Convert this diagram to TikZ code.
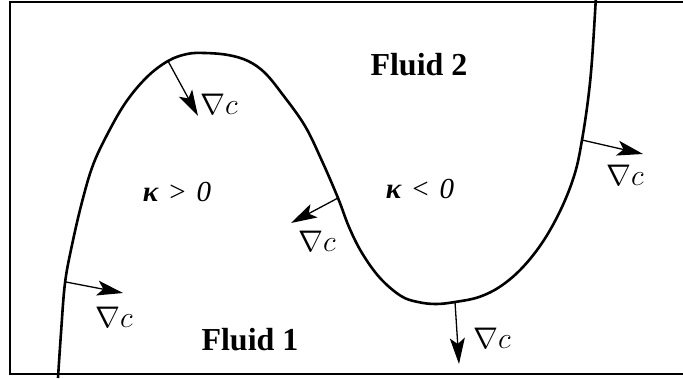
\documentclass[tikz,border=0pt]{standalone}
\usepackage{fontspec}
\setmainfont{Liberation Serif}
\usetikzlibrary{arrows.meta}
\tikzset{
  >={Stealth[length=26pt,width=15pt,inset=6pt]},
  frame/.style={line width=2.8pt},
  iface/.style={line width=2.6pt,line join=round},
  grad/.style={->,line width=1.3pt},
  gradlbl/.style={inner sep=0pt,font=\fontsize{24.88}{28}\selectfont,scale=1.2,transform shape},
  fluidlbl/.style={inner sep=0pt,font=\fontsize{32}{34}\selectfont\bfseries},
  curvlbl/.style={inner sep=0pt,font=\fontsize{29}{32}\selectfont},
}
\newcommand{\gradc}{$\nabla c$}

\begin{document}
\begin{tikzpicture}[x=1pt,y=-1pt]
\useasboundingbox (0,0) rectangle (683,378);

% frame, open on the right
\draw[frame] (690,2) -- (10,2) -- (10,374) -- (690,374);

% interface between the fluids
\draw[iface] plot[smooth,tension=0.6] coordinates {
  (58,378) (61,333) (65,283) (72,245) (82,202) (93,165) (108,133)
  (126,102) (147,77) (168,61) (187,54) (205,53) (228,55) (248,61)
  (265,73) (283,95) (305,126) (322,161) (338,198) (349,227) (362,253)
  (380,278) (401,296) (418,302) (436,304) (455,302) (479,297) (501,286)
  (523,267) (544,240) (562,207) (575,173) (582,140) (588,100)
  (592,60) (596,-4)};

% points on the interface and arrow tips
\coordinate (b1) at (66,282);  \coordinate (t1) at (123,293);
\coordinate (b2) at (168,61);  \coordinate (t2) at (198,116);
\coordinate (b3) at (338,198); \coordinate (t3) at (291,223);
\coordinate (b4) at (455,302); \coordinate (t4) at (459,364);
\coordinate (b5) at (582,140); \coordinate (t5) at (643,154);

% gradient arrows
\draw[grad] (b1) -- (t1);
\draw[grad] (b2) -- (t2);
\draw[grad] (b3) -- (t3);
\draw[grad] (b4) -- (t4);
\draw[grad] (b5) -- (t5);

% gradient labels
\node[gradlbl] (g1) at (114,317) {\gradc};
\node[gradlbl] (g2) at (219,104) {\gradc};
\node[gradlbl] (g3) at (317,241) {\gradc};
\node[gradlbl] (g4) at (492,338) {\gradc};
\node[gradlbl] (g5) at (625,175) {\gradc};

% region labels
\node[fluidlbl] (f2) at (419,65) {Fluid 2};
\node[fluidlbl] (f1) at (250,340) {Fluid 1};
\node[curvlbl] (kp) at (177,192) {{\bfseries\itshape κ}\hspace{11pt}>\hspace{11pt}{\itshape 0}};
\node[curvlbl] (kn) at (420,189) {{\bfseries\itshape κ}\hspace{11pt}<\hspace{11pt}{\itshape 0}};

\end{tikzpicture}
\end{document}
